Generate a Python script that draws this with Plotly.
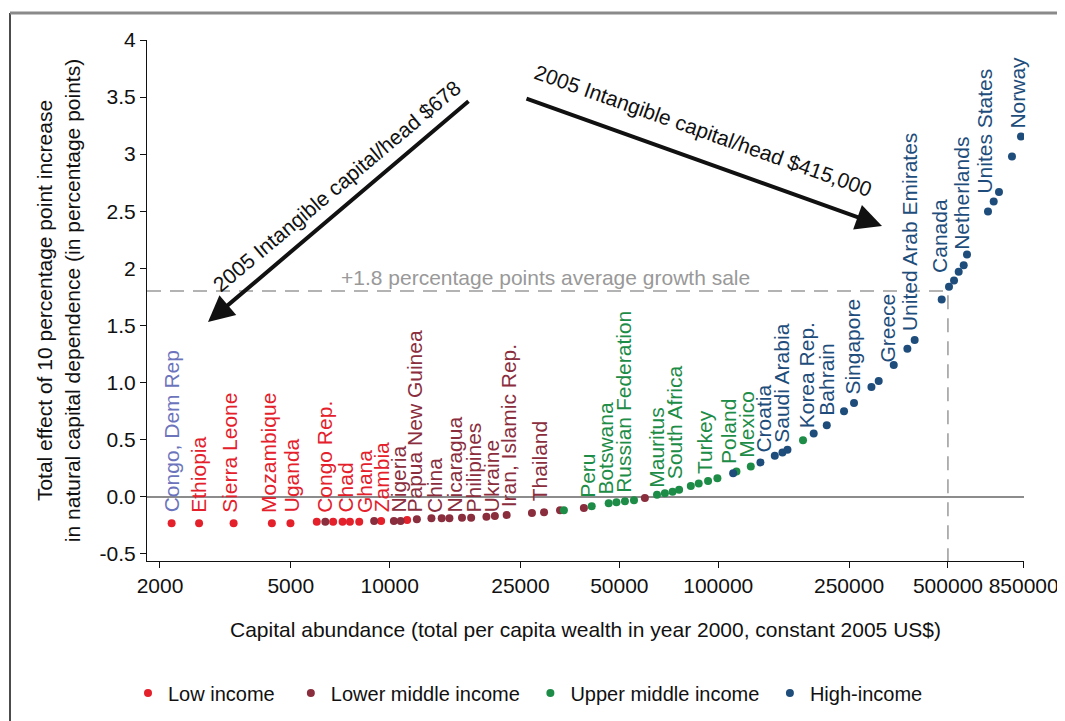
import numpy as np
import plotly.graph_objects as go

# ---------------- data ----------------
wealth = [2170, 2630, 3350, 4380, 4990, 6000, 6370, 6730, 7190, 7570, 8080, 8970,
          9420, 10300, 10800, 11300, 12100, 13400, 14400, 15200, 16600, 17700, 19700,
          20900, 22700, 27100, 29500, 33000, 33900, 39000, 41200, 46400, 49000, 52000,
          55400, 59800, 65100, 68800, 72600, 76000, 82500, 87200, 93100, 99400, 111000,
          113600, 125600, 134400, 148600, 156800, 162400, 181100, 195200, 213900, 241400,
          258900, 292500, 307800, 342000, 376300, 396000, 478600, 503700, 521800, 539100,
          558400, 571400, 662000, 689000, 715000, 783200, 834100]
effect = [-0.234, -0.234, -0.234, -0.234, -0.234, -0.220, -0.220, -0.220, -0.220, -0.220,
          -0.220, -0.214, -0.214, -0.214, -0.214, -0.205, -0.199, -0.191, -0.191, -0.191,
          -0.185, -0.185, -0.177, -0.170, -0.162, -0.144, -0.138, -0.121, -0.121, -0.101,
          -0.086, -0.059, -0.051, -0.042, -0.033, -0.013, 0.016, 0.028, 0.042, 0.059,
          0.092, 0.115, 0.135, 0.159, 0.203, 0.220, 0.264, 0.299, 0.357, 0.386, 0.409,
          0.494, 0.552, 0.625, 0.747, 0.820, 0.960, 1.012, 1.152, 1.295, 1.371, 1.726,
          1.837, 1.892, 1.969, 2.026, 2.120, 2.498, 2.586, 2.668, 2.979, 3.154]
group = ["L", "L", "L", "L", "L", "L", "LM", "L", "L", "L", "L", "LM", "L", "LM", "LM",
         "L", "LM", "LM", "LM", "LM", "LM", "LM", "LM", "LM", "LM", "LM", "LM", "LM",
         "UM", "LM", "UM", "UM", "UM", "UM", "UM", "LM", "UM", "UM", "UM", "UM", "UM",
         "UM", "UM", "UM", "H", "UM", "UM", "H", "H", "H", "H", "UM",
         "H", "H", "H", "H", "H", "H", "H", "H", "H", "H", "H", "H", "H", "H", "H", "H",
         "H", "H", "H", "H"]

group_codes = ["L", "LM", "UM", "H"]
group_names = ["Low income", "Lower middle income", "Upper middle income", "High-income"]

label_names = ["Congo, Dem Rep", "Ethiopia", "Sierra Leone", "Mozambique", "Uganda",
               "Congo Rep.", "Chad", "Ghana", "Zambia", "Nigeria", "Papua New Guinea",
               "China", "Nicaragua", "Philipines", "Ukraine", "Iran, Islamic Rep.",
               "Thailand", "Peru", "Botswana", "Russian Federation", "Mauritus",
               "South Africa", "Turkey", "Poland", "Mexico", "Croatia", "Saudi Arabia",
               "Korea Rep.", "Bahrain", "Singapore", "Greece", "United Arab Emirates",
               "Canada", "Netherlands", "Unites States", "Norway"]
label_wealth = [2170, 2630, 3270, 4270, 5030, 6320, 7360, 8350, 9450, 10620, 11930, 13630,
                15800, 18040, 20430, 22940, 28640, 40180, 45480, 51700, 64870, 73740,
                90990, 107900, 121800, 137500, 155700, 185500, 213500, 255400, 328600,
                382400, 471900, 549400, 646700, 816800]
label_base = [-0.124] * 15 + [-0.080, -0.022, 0.007, 0.037, 0.051, 0.094, 0.168, 0.212,
                              0.299, 0.357, 0.400, 0.488, 0.619, 0.721, 0.911, 1.187,
                              1.464, 1.974, 2.178, 2.673, 3.241]
label_group = ["DRC"] + ["L"] * 8 + ["LM"] * 8 + ["UM"] * 8 + ["H"] * 11

x_ticks = [2000, 5000, 10000, 25000, 50000, 100000, 250000, 500000, 850000]
y_ticks = [-0.5, 0.0, 0.5, 1.0, 1.5, 2.0, 2.5, 3.0, 3.5, 4.0]
y_ticktext = ["-0.5", "0.0", "0.5", "1.0", "1.5", "2", "2.5", "3", "3.5", "4"]

avg_growth = 1.8
threshold_wealth = 500000

# ---------------- styling ----------------
OFF = 8                      # page body margin
W, H = 1065 - OFF, 721 - OFF
PW, PH = 877, 521
ML, MT = 147 - OFF, 40 - OFF
MR, MB = W - ML - PW, H - MT - PH
FONT = "Liberation Sans, Arial, Helvetica, sans-serif"
colors = {"L": "#E4202B", "LM": "#8A2D3D", "UM": "#1D8C47", "H": "#1E4D7B", "DRC": "#6C74BC"}
legend_pad = [2, 1, 1, 0]
x_range = [np.log10(1826), np.log10(852000)]
y_range = [-0.565, 4.0]


def px2x(px):
    return (px - OFF - ML) / PW


def py2y(py):
    return (H - MB - (py - OFF)) / PH


fig = go.Figure()

# reference dashed line
fig.add_trace(go.Scatter(
    x=[10 ** x_range[0], threshold_wealth, threshold_wealth],
    y=[avg_growth, avg_growth, y_range[0]],
    mode="lines", line=dict(color="#9a9a9a", width=1.5, dash="14px,9px"),
    showlegend=False, hoverinfo="skip"))

w_arr = np.array(wealth)
e_arr = np.array(effect)
g_arr = np.array(group)
for code, name, pad in zip(group_codes, group_names, legend_pad):
    m = g_arr == code
    fig.add_trace(go.Scatter(
        x=w_arr[m], y=e_arr[m], mode="markers", name=name + "\u00a0" * pad,
        marker=dict(color=colors[code], size=8, line=dict(width=0))))

annotations = []
for nm, lw, lb, lg in zip(label_names, label_wealth, label_base, label_group):
    annotations.append(dict(
        x=np.log10(lw), y=lb, xref="x", yref="y", text=nm, showarrow=False,
        textangle=-90, xanchor="center", yanchor="bottom", yshift=-4,
        font=dict(family=FONT, size=21, color=colors[lg])))


def arrow(head, tail):
    return dict(x=px2x(head[0]), y=py2y(head[1]), xref="paper", yref="paper",
                ax=tail[0] - head[0], ay=tail[1] - head[1], axref="pixel", ayref="pixel",
                text="", showarrow=True, arrowhead=2, arrowwidth=4, arrowsize=1.3,
                arrowcolor="#111111")


annotations.append(arrow((208, 322), (470, 100)))
annotations.append(arrow((882, 226), (525, 98)))
annotations.append(dict(
    x=px2x(336), y=py2y(186), xref="paper", yref="paper",
    text="2005 Intangible capital/head $678", showarrow=False, textangle=-40,
    xanchor="center", yanchor="middle", font=dict(family=FONT, size=21, color="#111111")))
annotations.append(dict(
    x=px2x(703), y=py2y(131), xref="paper", yref="paper",
    text="2005 Intangible capital/head $415,000", showarrow=False, textangle=19.5,
    xanchor="center", yanchor="middle", font=dict(family=FONT, size=21, color="#111111")))
annotations.append(dict(
    x=px2x(545), y=py2y(277), xref="paper", yref="paper",
    text="+1.8 percentage points average growth sale", showarrow=False,
    xanchor="center", yanchor="middle", font=dict(family=FONT, size=21, color="#999999")))

shapes = [
    dict(type="line", xref="paper", yref="paper", x0=px2x(10), x1=px2x(10),
         y0=py2y(13), y1=py2y(730), line=dict(color="#111111", width=1.5)),
    dict(type="line", xref="paper", yref="paper", x0=px2x(10), x1=px2x(1070),
         y0=py2y(13), y1=py2y(13), line=dict(color="#8a8a8a", width=3)),
]

fig.update_layout(
    width=W, height=H,
    margin=dict(l=ML, r=MR, t=MT, b=MB, autoexpand=False),
    paper_bgcolor="white", plot_bgcolor="white",
    font=dict(family=FONT, size=21, color="#111111"),
    annotations=annotations, shapes=shapes,
    legend=dict(orientation="h", x=px2x(128), y=py2y(693), xanchor="left",
                yanchor="middle", font=dict(family=FONT, size=20, color="#111111"),
                itemwidth=30, bgcolor="rgba(0,0,0,0)", traceorder="normal"),
    xaxis=dict(type="log", range=x_range, tickvals=x_ticks,
               ticktext=[str(v) for v in x_ticks], ticks="outside", ticklen=6,
               tickcolor="#111111", showline=True, linecolor="#111111", linewidth=1.2,
               showgrid=False, zeroline=False, tickfont=dict(size=21),
               title=dict(text="Capital abundance (total per capita wealth in year 2000, constant 2005 US$)",
                          font=dict(size=21), standoff=26)),
    yaxis=dict(range=y_range, tickvals=y_ticks, ticktext=y_ticktext, ticks="outside",
               ticklen=6, tickcolor="#111111", showline=True, linecolor="#111111",
               linewidth=1.2, showgrid=False, zeroline=True, zerolinecolor="#8c8c8c",
               zerolinewidth=2, tickfont=dict(size=21),
               title=dict(text="Total effect of 10 percentage point increase<br>in natural capital dependence (in percentage points)",
                          font=dict(size=21), standoff=13)),
)

fig.write_html("out.html")
